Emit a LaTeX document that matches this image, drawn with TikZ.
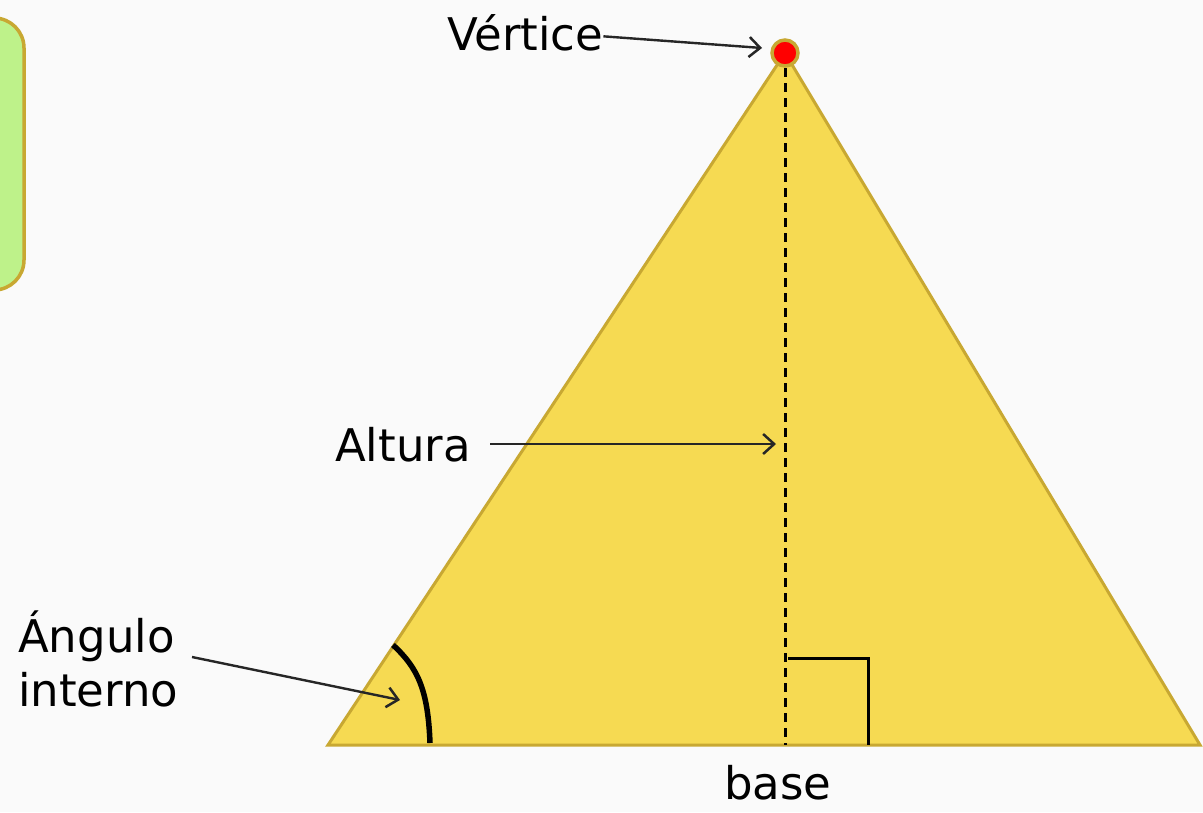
\documentclass[tikz,border=0pt]{standalone}
\usepackage{fontspec}
\setmainfont{DejaVu Sans}
\usetikzlibrary{arrows.meta}
\definecolor{tri}{RGB}{246,218,82}
\definecolor{triline}{RGB}{200,168,50}
\definecolor{boxfill}{RGB}{190,242,138}
\definecolor{bg}{RGB}{250,250,250}
\tikzset{
  lbl/.style={font=\fontsize{45}{54}\selectfont, inner sep=0pt, align=left},
  pointer/.style={-{Straight Barb[length=11pt,width=20pt,line width=2.5pt]}, line width=2.4pt, black!85}
}
\begin{document}
\begin{tikzpicture}[x=1pt,y=-1pt]
				\fill[bg] (0,0) rectangle (1203,812);
				\useasboundingbox (0,0) rectangle (1203,812);

				\draw[fill=boxfill, draw=triline, line width=3.5pt, rounded corners=30pt] (-40,18) rectangle (24,290);

				\coordinate (A) at (328,745);
				\coordinate (B) at (1200,745);
				\coordinate (C) at (785,53);
				\coordinate (H) at (785,745);

				\draw[fill=tri, draw=triline, line width=3pt] (A) -- (B) -- (C) -- cycle;
				\draw[line width=3pt, dash pattern=on 9pt off 6pt] (C) -- (H);
				\draw[line width=3pt] (788,658) -| (868,745);
				\draw[line width=5.5pt] (430,743) .. controls (428,690) and (418,668) .. (393,645);
				\fill[red, draw=triline, line width=3.5pt] (C) circle (13);

				\node[lbl, anchor=base west] (vertice) at (447,50) {Vértice};
				\node[lbl, anchor=base west] (altura) at (335,461) {Altura};
				\node[lbl, anchor=base west] (angulo) at (18,706) {Ángulo\\interno};
				\node[lbl, anchor=base] (base) at (778,799) {base};
				\coordinate (apexend) at (762,48);
				\coordinate (altend) at (776,444);
				\coordinate (angend) at (400,700);

				\draw[pointer] ([yshift=-4pt]vertice.east) -- (apexend);
				\draw[pointer] (490,444) -- (altend);
				\draw[pointer] (192,657) -- (angend);
			\end{tikzpicture}
\end{document}
